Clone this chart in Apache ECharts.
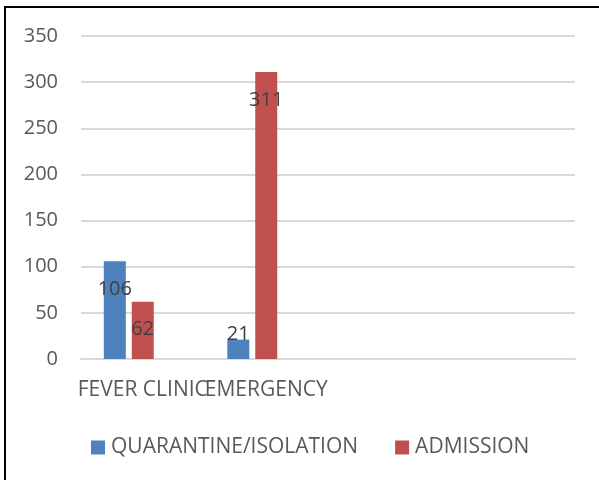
<!DOCTYPE html>
<html>
<head>
<meta charset="utf-8">
<script src="https://cdn.jsdelivr.net/npm/echarts@6/dist/echarts.min.js"></script>
<style>
  html, body { margin: 0; padding: 0; background: #fff; }
  #chart { width: 599px; height: 480px; }
</style>
</head>
<body>
<div id="chart"></div>
<script>
// Patient counts by department
const categories = ['FEVER CLINIC', 'EMERGENCY', '', ''];
const quarantine = [106, 21, null, null];
const admission = [62, 311, null, null];
const spare = [null, null, null, null]; // empty third series reserving its slot
const yTicks = { min: 0, max: 350, interval: 50 };

const FONT = '"Open Sans", sans-serif';

const labelFor = (vals) => vals.map(v => {
  if (v == null) return v;
  // short bars get their label lifted above the bar end
  const short = v < 40;
  return {
    value: v,
    label: { position: ['50%', short ? -5 : 28] }
  };
});

const baseLabel = {
  show: true,
  align: 'center',
  verticalAlign: 'middle',
  color: '#404040',
  fontFamily: FONT,
  fontSize: 20
};

const chart = echarts.init(document.getElementById('chart'), null, { renderer: 'canvas' });
chart.setOption({
  animation: false,
  backgroundColor: '#fff',
  graphic: [{
    type: 'rect',
    shape: { x: 5, y: 7, width: 620, height: 500 },
    style: { fill: 'none', stroke: '#000', lineWidth: 2 },
    silent: true,
    z: 100
  }],
  grid: { left: 81, right: 24, top: 36, bottom: 121, containLabel: false },
  legend: {
    data: ['QUARANTINE/ISOLATION', 'ADMISSION'],
    left: 91,
    top: 437,
    padding: 0,
    itemWidth: 14,
    itemHeight: 14,
    itemGap: 37,
    icon: 'rect',
    textStyle: { color: '#595959', fontFamily: FONT, fontSize: 21, padding: [0, 0, 0, 1] }
  },
  xAxis: {
    type: 'category',
    data: categories,
    axisLine: { lineStyle: { color: '#d9d9d9', width: 2 } },
    axisTick: { show: false },
    axisLabel: { color: '#595959', fontFamily: FONT, fontSize: 21, margin: 21, interval: 0 }
  },
  yAxis: {
    type: 'value',
    min: yTicks.min,
    max: yTicks.max,
    interval: yTicks.interval,
    axisLine: { show: false },
    axisTick: { show: false },
    splitLine: { lineStyle: { color: '#d9d9d9', width: 2 } },
    axisLabel: { color: '#595959', fontFamily: FONT, fontSize: 20, margin: 23 }
  },
  series: [
    { name: 'QUARANTINE/ISOLATION', type: 'bar', data: labelFor(quarantine), barWidth: 22, barGap: '27%',
      itemStyle: { color: '#4f81bd' }, label: baseLabel },
    { name: 'ADMISSION', type: 'bar', data: labelFor(admission), barWidth: 22, barGap: '27%',
      itemStyle: { color: '#c0504d' }, label: baseLabel },
    { name: 'spare', type: 'bar', data: spare, barWidth: 22, barGap: '27%',
      itemStyle: { color: '#9bbb59' } }
  ]
});
</script>
</body>
</html>
